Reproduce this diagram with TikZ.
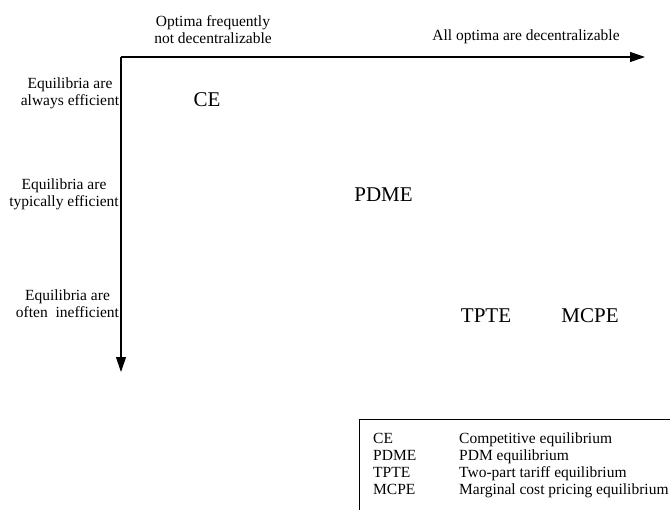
\documentclass[tikz,border=0pt]{standalone}
\usepackage{fontspec}
\setmainfont{Liberation Serif}
\usetikzlibrary{arrows.meta}
\begin{document}
\begin{tikzpicture}[x=1bp,y=-1bp,
  small/.style={font=\fontsize{15.5bp}{17bp}\selectfont, inner sep=0pt, align=center},
  big/.style={font=\fontsize{21bp}{24bp}\selectfont, inner sep=0pt, anchor=base},
  leg/.style={font=\fontsize{15.5bp}{17bp}\selectfont, inner sep=0pt, anchor=base west},
  axis/.style={line width=1.2bp, -{Triangle[length=15bp,width=10bp]}},
  legbox/.style={line width=1bp}]
\useasboundingbox (0,0) rectangle (670,510);
% axes
\coordinate (O) at (121,57);
\coordinate (H) at (645,57);
\coordinate (V) at (121,372);
\draw[axis] (O) -- (H);
\draw[axis] (O) -- (V);
% top labels
\node[small] (opt) at (213,29.5) {Optima frequently\\not decentralizable};
\node[small, anchor=base] (all) at (526,41) {All optima are decentralizable};
% left labels
\node[small] (always) at (70,93) {Equilibria are\\always efficient};
\node[small] (typ) at (64,194) {Equilibria are\\typically efficient};
\node[small] (often) at (67.5,304) {Equilibria are\\often\ \ inefficient};
% big labels
\node[big] (ce) at (207,107) {CE};
\node[big] (pdme) at (383.5,202) {PDME};
\node[big] (tpte) at (486,322) {TPTE};
\node[big] (mcpe) at (590,322) {MCPE};
% legend box
\coordinate (b1) at (359,515);
\coordinate (b2) at (359,419);
\coordinate (b3) at (675,419);
\draw[legbox] (b1) -- (b2) -- (b3);
\node[leg] (l1) at (373,443) {CE};
\node[leg] (l2) at (373,460) {PDME};
\node[leg] (l3) at (373,477) {TPTE};
\node[leg] (l4) at (373,494) {MCPE};
\node[leg] (d1) at (459,443) {Competitive equilibrium};
\node[leg] (d2) at (459,460) {PDM equilibrium};
\node[leg] (d3) at (459,477) {Two-part tariff equilibrium};
\node[leg] (d4) at (459,494) {Marginal cost pricing equilibrium};
\end{tikzpicture}
\end{document}
